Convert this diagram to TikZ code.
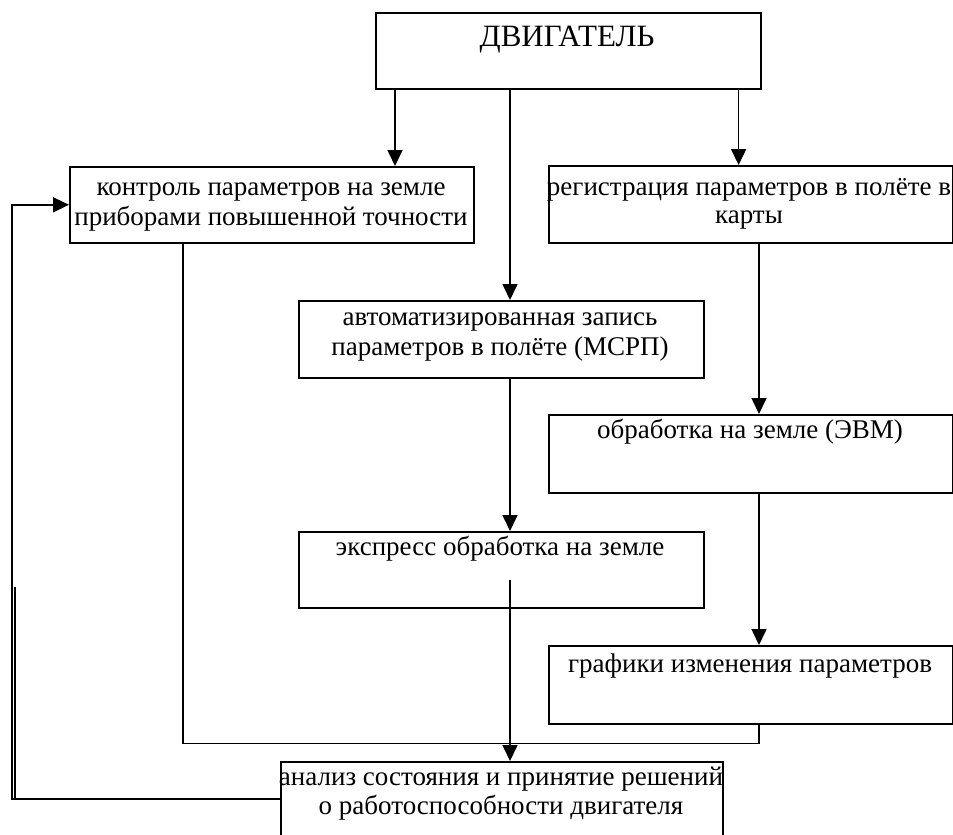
\documentclass[tikz,border=0pt]{standalone}
\usepackage{fontspec}
\setmainfont{Liberation Serif}
\usetikzlibrary{arrows.meta}
\begin{document}
\begin{tikzpicture}[x=1pt,y=-1pt,
  box/.style={draw, line width=1.6pt, rectangle, inner sep=0pt, anchor=north west},
  txt/.style={anchor=base, inner sep=0pt, font=\fontsize{27}{30}\selectfont},
  big/.style={anchor=base, inner sep=0pt, font=\fontsize{31}{34}\selectfont},
  wire/.style={line width=1.6pt},
  arr/.style={line width=1.6pt, -{Triangle[length=16pt,width=15pt]}}]
\clip (0,0) rectangle (953,835);
\fill[white] (0,0) rectangle (953,835);
% boxes
\node[box, minimum width=385pt, minimum height=76pt] (dv) at (375,12) {};
\node[box, minimum width=404pt, minimum height=76pt] (contr) at (69,166) {};
\node[box, minimum width=404pt, minimum height=77pt] (reg) at (548,165) {};
\node[box, minimum width=405pt, minimum height=77pt] (auto) at (298,300) {};
\node[box, minimum width=404pt, minimum height=78pt] (obr) at (548,414) {};
\node[box, minimum width=405pt, minimum height=76pt] (expr) at (298,531) {};
\node[box, minimum width=404pt, minimum height=78pt] (graf) at (548,645) {};
\node[box, minimum width=442pt, minimum height=110pt] (anal) at (280,761) {};
% texts
\node[big] (t0) at (567,46) {ДВИГАТЕЛЬ};
\node[txt] (t1a) at (271,195) {контроль параметров на земле};
\node[txt] (t1b) at (271,225) {приборами повышенной точности};
\node[txt] (t2a) at (749,195) {регистрация параметров в полёте в};
\node[txt] (t2b) at (749,223) {карты};
\node[txt] (t3a) at (500,325) {автоматизированная запись};
\node[txt] (t3b) at (500,355) {параметров в полёте (МСРП)};
\node[txt] (t4) at (750,438) {обработка на земле (ЭВМ)};
\node[txt] (t5) at (500,555) {экспресс обработка на земле};
\node[txt] (t6) at (750,672) {графики изменения параметров};
\node[txt] (t7a) at (501,785) {анализ состояния и принятие решений};
\node[txt] (t7b) at (501,814) {о работоспособности двигателя};
% connectors
\draw[arr] ([xshift=20pt]dv.south west) -- ([xshift=20pt]dv.south west |- contr.north);
\draw[arr] ([xshift=135pt]dv.south west) -- ([xshift=135pt]dv.south west |- auto.north);
\draw[arr] ([xshift=-23pt]dv.south east) -- ([xshift=-23pt]dv.south east |- reg.north);
\draw[arr] ([xshift=212pt]auto.south west) -- ([xshift=212pt]auto.south west |- expr.north);
\draw[arr] ([xshift=211pt]reg.south west) -- ([xshift=211pt]reg.south west |- obr.north);
\draw[arr] ([xshift=211pt]obr.south west) -- ([xshift=211pt]obr.south west |- graf.north);
\coordinate (ein) at ([xshift=212pt,yshift=29pt]expr.south west);
\draw[arr] (ein) -- (ein |- anal.north);
\coordinate (gout) at ([xshift=211pt]graf.south west);
\coordinate (bus) at ([yshift=-19pt]gout);
\coordinate (cin) at ([xshift=114pt]contr.south west);
\draw[wire] (gout) -- (bus) -- (bus -| cin) -- (cin);
\coordinate (fb) at ([yshift=-38pt]anal.north west);
\coordinate (fl) at (12,0);
\draw[arr] (fb) -- (fb -| fl) -- (fl |- contr.west) -- (contr.west);
\coordinate (dbl) at (15,587);
\draw[wire] (dbl) -- (dbl |- fb);
\end{tikzpicture}
\end{document}
